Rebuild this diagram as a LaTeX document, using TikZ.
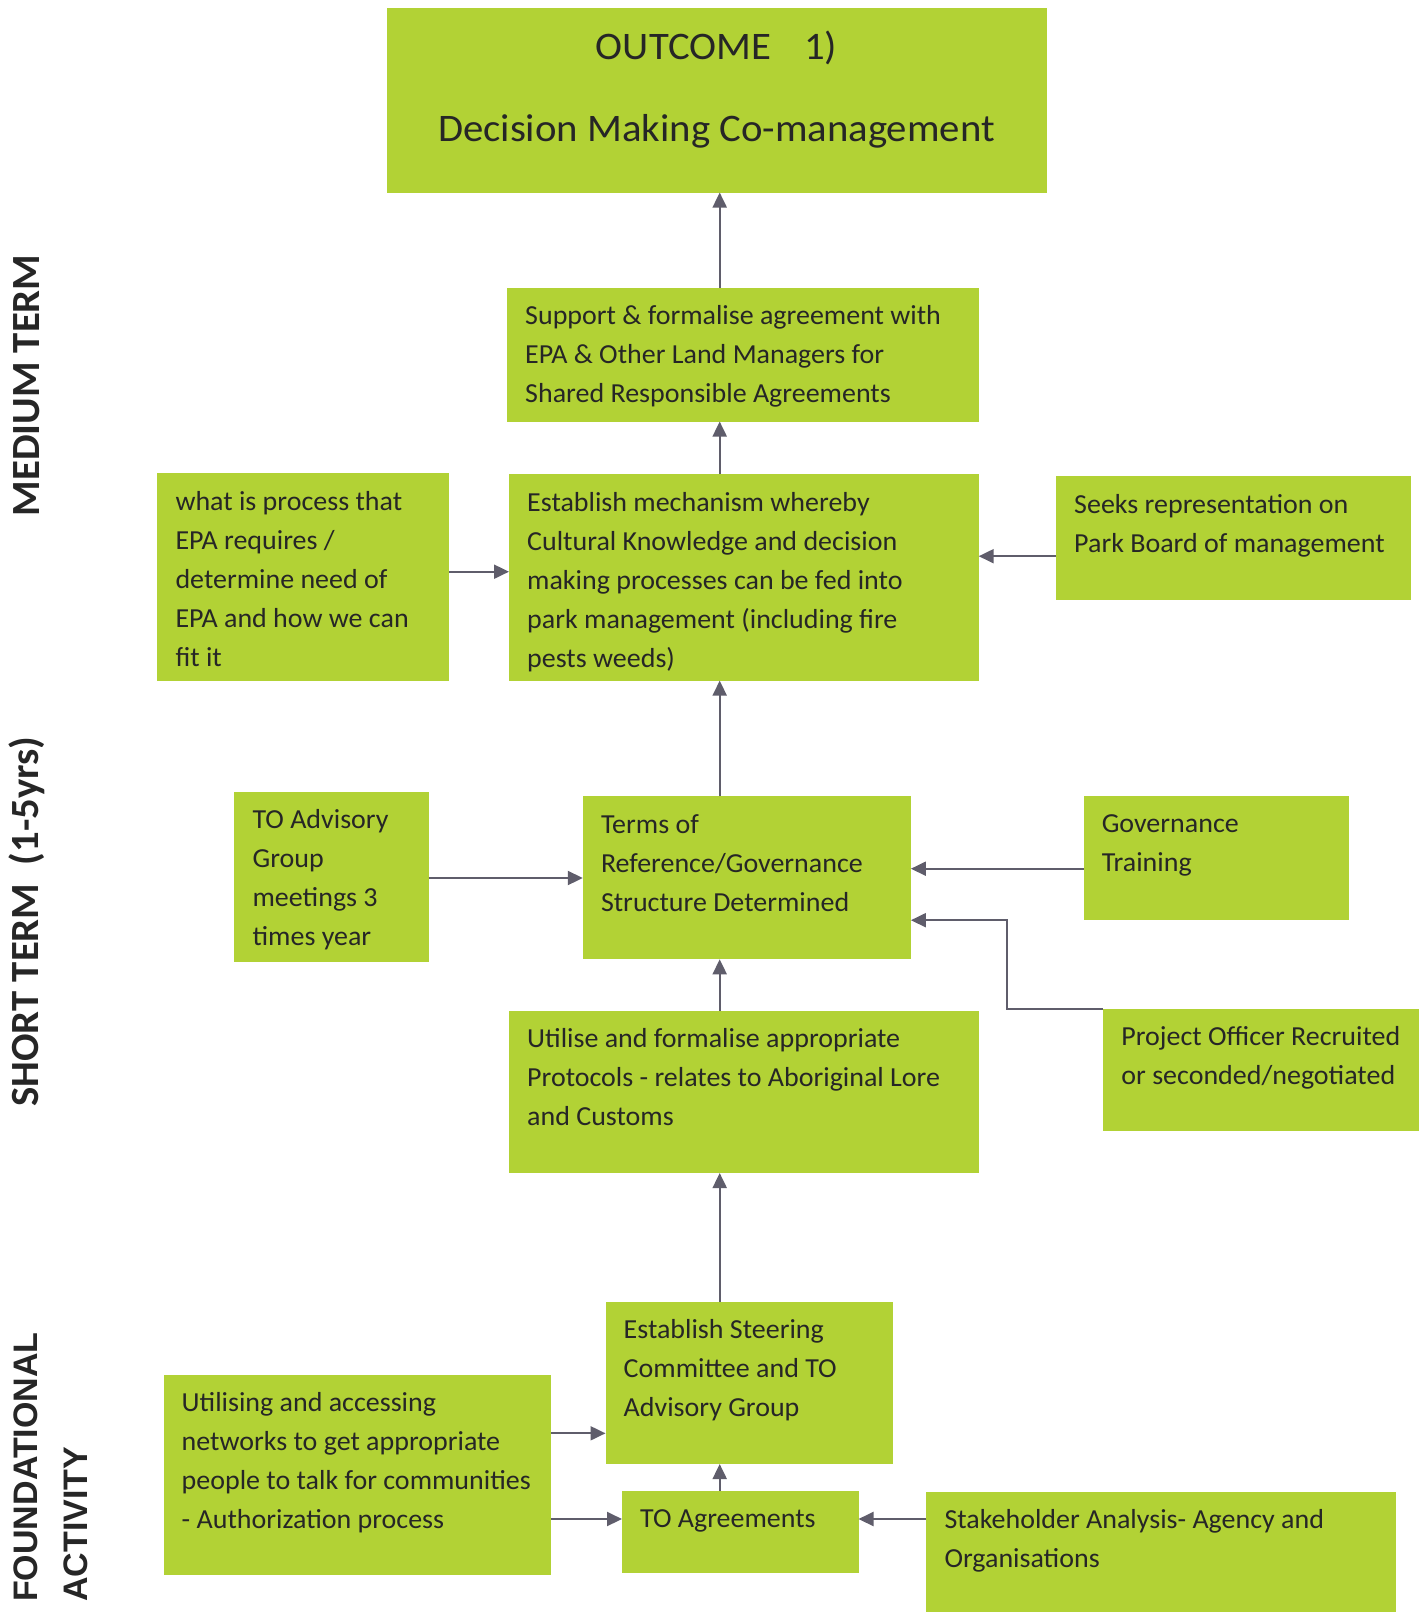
\documentclass[tikz,border=0pt]{standalone}
\usepackage{fontspec}
\setmainfont{Carlito}[FakeStretch=1.018]
\newfontfamily\titlefont{Carlito}[FakeStretch=1.045]
\newfontfamily\arialfont{Liberation Sans}
\usetikzlibrary{arrows.meta}
\definecolor{boxgreen}{HTML}{B2D235}
\definecolor{ink}{HTML}{262626}
\definecolor{arrowgray}{HTML}{5F5D6B}
\begin{document}
\begin{tikzpicture}[x=1pt,y=-1pt,
  gbox/.style={fill=boxgreen,draw=none,inner sep=0pt,outer sep=0pt,anchor=north west},
  btext/.style={anchor=north west,inner sep=0pt,align=left,text=ink,font=\fontsize{27.5}{39}\selectfont},
  arr/.style={draw=arrowgray,line width=2pt,-{Triangle[length=15pt,width=14pt]}},
  side/.style={rotate=90,inner sep=0pt,text=ink,font=\bfseries\fontsize{40}{48}\selectfont,anchor=base}
]
\useasboundingbox[fill=white] (0,0) rectangle (1426,1612);

% boxes
\node[gbox,minimum width=660pt,minimum height=184.3pt] (outcome) at (386.5,8.2) {};
\node[gbox,minimum width=471.7pt,minimum height=134pt] (support) at (507,287.5) {};
\node[gbox,minimum width=469.7pt,minimum height=206.6pt] (establish) at (509,474) {};
\node[gbox,minimum width=292pt,minimum height=207.6pt] (whatis) at (157.3,473) {};
\node[gbox,minimum width=354.6pt,minimum height=124.4pt] (seeks) at (1056,476) {};
\node[gbox,minimum width=328.1pt,minimum height=163.3pt] (terms) at (582.8,796) {};
\node[gbox,minimum width=194.3pt,minimum height=170.7pt] (toadv) at (234.4,791.6) {};
\node[gbox,minimum width=265.4pt,minimum height=124.4pt] (gov) at (1083.6,795.7) {};
\node[gbox,minimum width=315.6pt,minimum height=122.4pt] (po) at (1103.2,1008.6) {};
\node[gbox,minimum width=469.7pt,minimum height=162.4pt] (utilise) at (509,1010.6) {};
\node[gbox,minimum width=287.9pt,minimum height=162.4pt] (steer) at (605.5,1301.6) {};
\node[gbox,minimum width=387.6pt,minimum height=200.4pt] (utilising) at (163.5,1374.6) {};
\node[gbox,minimum width=236.5pt,minimum height=82.3pt] (toagr) at (622,1490.7) {};
\node[gbox,minimum width=469.9pt,minimum height=121pt] (stake) at (926.3,1491.8) {};

% title
\node[anchor=north,align=center,inner sep=0pt,text=ink,font=\titlefont\fontsize{39}{82}\selectfont] (outcomet) at ([yshift=-10.8pt]outcome.north)
  {\rule{0pt}{40pt}OUTCOME\hspace{33pt}1)\\Decision Making Co-management};

% box texts
\node[btext] (supportt) at ([xshift=18pt,yshift=-7pt]support.north west)
  {\rule{0pt}{30pt}Support \& formalise agreement with\\EPA \& Other Land Managers for\\Shared Responsible Agreements};
\node[btext] (establisht) at ([xshift=18pt,yshift=-7pt]establish.north west)
  {\rule{0pt}{30pt}Establish mechanism whereby\\Cultural Knowledge and decision\\making processes can be fed into\\park management (including fire\\pests weeds)};
\node[btext] (whatist) at ([xshift=18pt,yshift=-7pt]whatis.north west)
  {\rule{0pt}{30pt}what is process that\\EPA requires /\\determine need of\\EPA and how we can\\fit it};
\node[btext] (seekst) at ([xshift=18pt,yshift=-7pt]seeks.north west)
  {\rule{0pt}{30pt}Seeks representation on\\Park Board of management};
\node[btext] (termst) at ([xshift=18pt,yshift=-7pt]terms.north west)
  {\rule{0pt}{30pt}Terms of\\Reference/Governance\\Structure Determined};
\node[btext] (toadvt) at ([xshift=18pt,yshift=-7pt]toadv.north west)
  {\rule{0pt}{30pt}TO Advisory\\Group\\meetings 3\\times year};
\node[btext] (govt) at ([xshift=18pt,yshift=-7pt]gov.north west)
  {\rule{0pt}{30pt}Governance\\Training};
\node[btext] (pot) at ([xshift=18pt,yshift=-7pt]po.north west)
  {\rule{0pt}{30pt}Project Officer Recruited\\or seconded/negotiated};
\node[btext] (utiliset) at ([xshift=18pt,yshift=-7pt]utilise.north west)
  {\rule{0pt}{30pt}Utilise and formalise appropriate\\Protocols - relates to Aboriginal Lore\\and Customs};
\node[btext] (steert) at ([xshift=18pt,yshift=-7pt]steer.north west)
  {\rule{0pt}{30pt}Establish Steering\\Committee and TO\\Advisory Group};
\node[btext] (utilisingt) at ([xshift=18pt,yshift=-7pt]utilising.north west)
  {\rule{0pt}{30pt}Utilising and accessing\\networks to get appropriate\\people to talk for communities\\- Authorization process};
\node[btext] (toagrt) at ([xshift=18pt,yshift=-7pt]toagr.north west)
  {\rule{0pt}{30pt}TO Agreements};
\node[btext] (staket) at ([xshift=18pt,yshift=-6pt]stake.north west)
  {\rule{0pt}{30pt}Stakeholder Analysis- Agency and\\Organisations};

% side labels
\node[side] (medium) at (39.3,385.5) {MEDIUM TERM};
\node[side] (short) at (38.5,921.5) {SHORT TERM\ \ (1-5yrs)};
\node[rotate=90,anchor=north west,align=left,inner sep=0pt,text=ink,font=\arialfont\bfseries\fontsize{34}{50}\selectfont] (found) at (1.3,1602)
  {\rule{0pt}{36pt}FOUNDATIONAL\\ACTIVITY};

% helper coordinates
\coordinate (axis) at (719.7,0);
\coordinate (yA) at (0,571.7);
\coordinate (yB) at (0,556.2);
\coordinate (yC) at (0,878);
\coordinate (yD) at (0,868.7);
\coordinate (pobend) at (1006.5,920.2);
\coordinate (yE) at (0,1433.3);
\coordinate (yF) at (0,1519);

% connectors
\draw[arr] (support.north -| axis) -- (outcome.south -| axis);
\draw[arr] (establish.north -| axis) -- (support.south -| axis);
\draw[arr] (whatis.east |- yA) -- (establish.west |- yA);
\draw[arr] (seeks.west |- yB) -- (establish.east |- yB);
\draw[arr] (terms.north -| axis) -- (establish.south -| axis);
\draw[arr] (toadv.east |- yC) -- (terms.west |- yC);
\draw[arr] (gov.west |- yD) -- (terms.east |- yD);
\draw[arr] (po.north west) -| (pobend) -- (pobend -| terms.east);
\draw[arr] (utilise.north -| axis) -- (terms.south -| axis);
\draw[arr] (steer.north -| axis) -- (utilise.south -| axis);
\draw[arr] (utilising.east |- yE) -- (steer.west |- yE);
\draw[arr] (utilising.east |- yF) -- (toagr.west |- yF);
\draw[arr] (toagr.north -| axis) -- (steer.south -| axis);
\draw[arr] (stake.west |- yF) -- (toagr.east |- yF);
\end{tikzpicture}
\end{document}
